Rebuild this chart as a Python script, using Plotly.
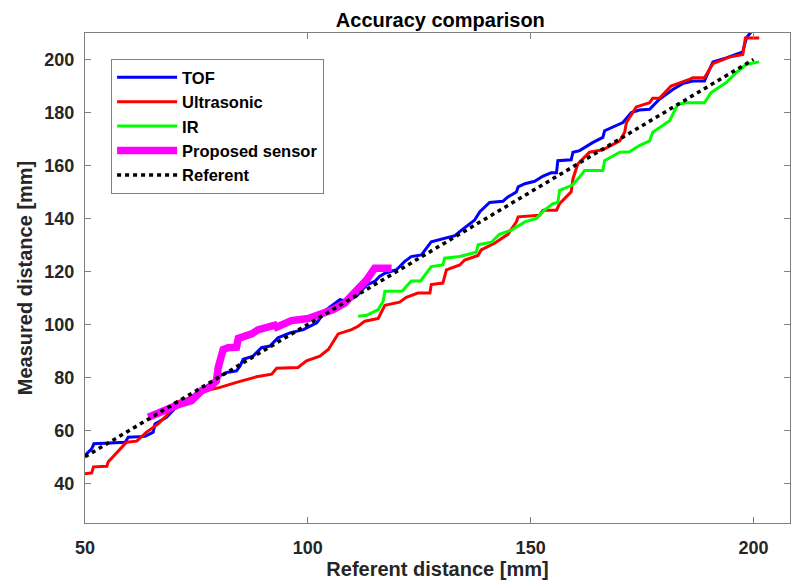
import plotly.graph_objects as go

# ---------------- data ----------------
tof_x = [50, 51.5, 52, 59, 59.7, 63.5, 65.3, 65.7, 68.3, 70, 73, 76, 78, 80.3, 81.8, 84, 84.8,
         85.5, 87.7, 89.6, 91.5, 93.3, 96, 99, 102, 104.2, 107.2, 108.7, 110.9, 113.2, 115,
         116.1, 117.3, 119.9, 121.7, 123.2, 125.5, 127.7, 130, 133, 134.5, 137.4, 138.6, 140.8,
         143.8, 144.9, 146.8, 147.2, 148.7, 150.9, 152.8, 154.6, 155.8, 156.1, 159.1, 159.5,
         161, 164, 166.2, 166.6, 170.7, 172.6, 174.4, 176.7, 178.9, 181.9, 184.1, 186.4, 189,
         190.9, 193.9, 197.6, 198.4, 199.5]
tof_y = [50.5, 53, 54.9, 55.5, 57.4, 57.7, 59.3, 62.4, 64.9, 68, 71.5, 75, 77.5, 80.6, 81.8, 82.4, 84.3,
         86.8, 88, 91.2, 91.8, 94.9, 96.8, 98, 100.6, 105.6, 109.3, 108.7, 110.6, 114.9, 116.2,
         118.1, 119.3, 120.6, 123.7, 125.6, 126.2, 131.2, 132.2, 133.5, 135.6, 139.3, 142.5, 146,
         146.5, 148.1, 150, 151.9, 153.1, 154, 156, 157.2, 157.2, 161.8, 162.1, 165,
         165.6, 168.7, 170.6, 173.1, 176.2, 180, 180.9, 181.2, 185, 188.7, 190.9, 191.9, 191.9,
         199.1, 200.6, 202.9, 208.1, 210.5]

us_x = [50, 51.5, 51.9, 54.9, 55.2, 59.3, 61.6, 63.8, 66.4, 68.3, 70.2, 72.8, 77.3, 80.3, 84,
        85.9, 88.5, 91.9, 93, 97.8, 99.7, 102.7, 104.6, 106.8, 109.8, 111.3, 112.8, 115.8,
        117.3, 120.6, 122.1, 124.7, 127.4, 127.7, 130.3, 131.1, 134.1, 135.2, 138.2, 138.9,
        141.9, 144.9, 146.8, 147.2, 150.5, 152, 152.8, 155.8, 156.5, 159.1, 159.5, 160.6,
        163.2, 166.2, 170, 171.1, 171.5, 173.7, 176.7, 177.4, 178.9, 181.5, 185.6, 186.4,
        189, 190.9, 194.6, 197.6, 198.2, 201.3]
us_y = [43.6, 43.9, 46.2, 46.4, 48, 55.5, 55.9, 59.3, 62.4, 65.6, 70.5, 71.8, 75, 76.2, 78.1,
        78.9, 80.2, 81.2, 83.4, 83.7, 86.2, 88, 90.5, 96.4, 98, 99.3, 101.2, 102.2,
        107.2, 108.4, 110.2, 111.8, 111.8, 115, 115.6, 120.6, 122.4, 124.3, 126, 128.1,
        130.6, 134, 138.7, 140.6, 141.2, 141.2, 143.1, 143.1, 145.6, 150, 155, 160.6,
        165, 165.9, 169.3, 172.5, 176.2, 182.1, 183.7, 185.4, 185.4, 190, 192.5, 193.1,
        193.1, 198.4, 200.9, 201.9, 208.1, 208.1]

ir_x = [111.3, 113.2, 115.8, 116.9, 117.3, 121.2, 123.2, 125.3, 127.7, 130.3, 130.7, 134.1,
        137.8, 138.2, 141.2, 143, 145.7, 148.7, 151.3, 153.1, 155, 156.1, 156.5, 159.3, 161,
        162.1, 166.2, 166.6, 170, 172.2, 174.4, 176.7, 177.4, 181.2, 183, 184.9, 189, 190.5,
        193.9, 196.1, 198.4, 201.3]
ir_y = [103.1, 103.4, 105.6, 108.7, 112.5, 112.6, 116.4, 116.4, 121.8, 122.4, 125, 125.6,
        127.2, 130, 131, 134, 135.6, 138.7, 140, 143.1, 145.6, 146, 150.6, 152.5, 155.6,
        158.1, 158.1, 161.8, 165, 165.2, 167.5, 169.3, 172.5, 176.9, 183.1, 183.7, 183.7, 187.5,
        191.3, 195, 198.1, 199.1]

prop_x = [64.2, 67.6, 71.3, 73.9, 76.2, 78, 79.5, 79.9, 80.6, 81, 82.1, 84, 84.4, 87.4, 88.9,
          91.9, 92.6, 93, 96.3, 100.1, 102.7, 105.7, 108.3, 110.2, 113.2, 115, 118.8]
prop_y = [64.9, 67.4, 69.9, 71.2, 75, 76.2, 78.7, 83.7, 88, 90.5, 91.2, 91.4, 94.7, 96.4, 98,
          98.9, 99.7, 98.9, 101.4, 102.2, 103.7, 105.6, 108.1, 111.2, 116.8, 121.2, 121.2]

ref_x = [50, 200]
ref_y = [50, 200]

x_ticks = [50, 100, 150, 200]
y_ticks = [40, 60, 80, 100, 120, 140, 160, 180, 200]

FONT = "Liberation Sans"
AXC = "#808080"
TXT = "#262626"

fig = go.Figure()
fig.add_trace(go.Scatter(x=tof_x, y=tof_y, mode="lines", name="TOF",
                         line=dict(color="#0000FF", width=3)))
fig.add_trace(go.Scatter(x=us_x, y=us_y, mode="lines", name="Ultrasonic",
                         line=dict(color="#FF0000", width=3)))
fig.add_trace(go.Scatter(x=ir_x, y=ir_y, mode="lines", name="IR",
                         line=dict(color="#00FF00", width=3)))
fig.add_trace(go.Scatter(x=prop_x, y=prop_y, mode="lines", name="Proposed sensor",
                         line=dict(color="#FF00FF", width=7.5)))
fig.add_trace(go.Scatter(x=ref_x, y=ref_y, mode="lines", name="Referent",
                         line=dict(color="#000000", width=3.5, dash="4px,4px")))

fig.update_layout(
    width=792, height=583,
    margin=dict(l=85, r=2, t=33, b=60),
    paper_bgcolor="white", plot_bgcolor="white",
    font=dict(family=FONT, size=17, color=TXT, weight="bold"),
    title=dict(text="Accuracy comparison", x=0.556, xanchor="center", y=0.965, yanchor="middle",
               font=dict(family=FONT, size=20, color="#000000", weight="bold")),
    showlegend=True,
    legend=dict(x=0.037, y=0.947, xanchor="left", yanchor="top",
                bgcolor="white", bordercolor=AXC, borderwidth=1,
                font=dict(family=FONT, size=16.5, color="#000000", weight="bold"),
                tracegroupgap=0, itemwidth=60),
)
fig.update_xaxes(range=[50, 208.2], tickvals=x_ticks, ticks="inside", ticklen=6,
                 tickcolor=AXC, showline=True, linecolor=AXC, linewidth=1, mirror="ticks",
                 showgrid=False, zeroline=False, ticklabelstandoff=8,
                 tickfont=dict(family=FONT, size=18, color=TXT, weight="bold"),
                 title=dict(text="Referent distance [mm]", standoff=5,
                            font=dict(family=FONT, size=20, color=TXT, weight="bold")))
fig.update_yaxes(range=[25, 210], tickvals=y_ticks, ticks="inside", ticklen=6,
                 tickcolor=AXC, showline=True, linecolor=AXC, linewidth=1, mirror="ticks",
                 showgrid=False, zeroline=False, ticklabelstandoff=6,
                 tickfont=dict(family=FONT, size=18, color=TXT, weight="bold"),
                 title=dict(text="Measured distance [mm]", standoff=6,
                            font=dict(family=FONT, size=20, color=TXT, weight="bold")))

fig.write_html("out.html")
